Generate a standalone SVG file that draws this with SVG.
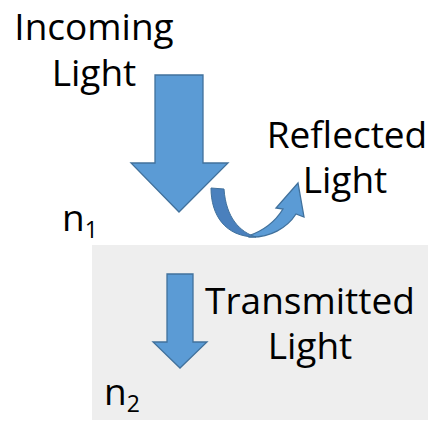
<svg xmlns="http://www.w3.org/2000/svg" width="435" height="425" viewBox="0 0 435 425">
  <style>
    .lbl { font-family: "Open Sans", "Noto Sans", "Liberation Sans", sans-serif; font-size: 37px; fill: #000; }
    .mid { text-anchor: middle; }
    .sub { font-size: 23px; }
    .arrow { fill: #5b9bd5; stroke: #41719c; stroke-width: 1.3; stroke-linejoin: miter; }
    .arrow-dark { fill: #4a80bd; stroke: #41719c; stroke-width: 1; }
  </style>

  <!-- second medium -->
  <rect id="medium2" x="92" y="245" width="336" height="175" fill="#eeeeee"/>

  <g id="incoming">
    <path class="arrow" d="M155,75 H203 V163 H228 L179,212 L131,163 H155 Z"/>
    <text class="lbl mid" x="94" y="40">Incoming</text>
    <text class="lbl mid" x="94" y="86">Light</text>
  </g>

  <g id="reflected">
    <!-- rising arm with head -->
    <path class="arrow" d="M249,237 C270,238 287,228 296,214 L304,217 L298,183 L276,208 L283,209 C275,222 263,231 248,236 Z"/>
    <!-- lower arm of the U-turn, in shadow -->
    <path class="arrow-dark" d="M211,188 C211,215 225,237 256,237 C240,232 226,218 224,189 Z"/>
    <text class="lbl mid" x="347" y="148">Reflected</text>
    <text class="lbl mid" x="345" y="193">Light</text>
  </g>

  <g id="transmitted">
    <path class="arrow" d="M167,274 H193 V342 H207 L180,368 L153,342 H167 Z"/>
    <text class="lbl mid" x="310" y="314">Transmitted</text>
    <text class="lbl mid" x="310" y="359">Light</text>
  </g>

  <g id="n1">
    <text class="lbl" x="62" y="231">n<tspan class="sub" dy="7">1</tspan></text>
  </g>
  <g id="n2">
    <text class="lbl" x="104" y="405">n<tspan class="sub" dy="7">2</tspan></text>
  </g>
</svg>
